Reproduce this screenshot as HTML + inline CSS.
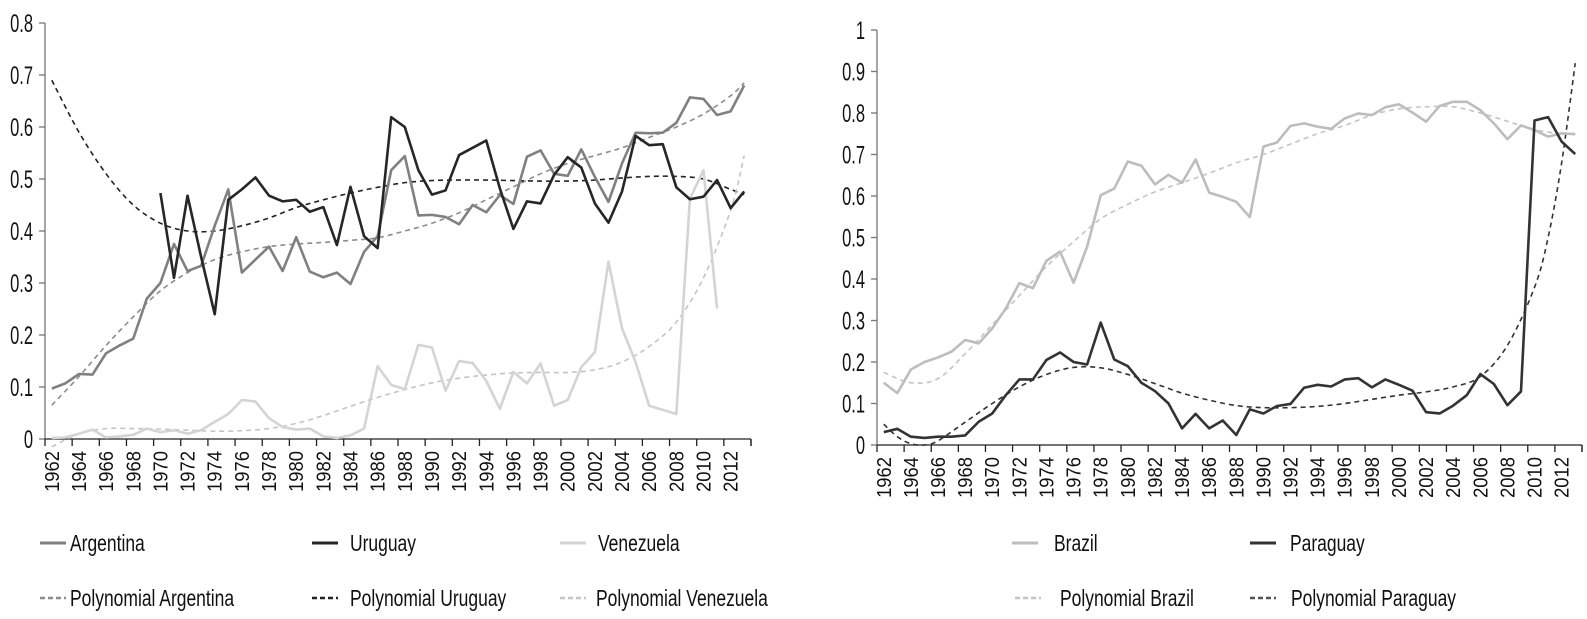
<!DOCTYPE html>
<html><head><meta charset="utf-8">
<style>
html,body{margin:0;padding:0;background:#fff;width:1587px;height:619px;overflow:hidden}
svg{display:block}
text{font-family:"Liberation Sans",sans-serif;fill:#111}
</style></head>
<body>
<svg id="chart" width="1587" height="619" viewBox="0 0 1587 619" xmlns="http://www.w3.org/2000/svg"></svg>
<script>
// ---- Data ----
const years = [];
for (let y = 1962; y <= 2013; y++) years.push(y);

const argentina = [0.097,0.107,0.125,0.124,0.165,0.18,0.193,0.27,0.30,0.375,0.323,0.333,0.41,0.48,0.32,0.345,0.37,0.323,0.388,0.322,0.311,0.32,0.298,0.36,0.39,0.517,0.544,0.43,0.431,0.427,0.413,0.45,0.436,0.469,0.452,0.543,0.555,0.51,0.506,0.557,0.504,0.456,0.53,0.589,0.588,0.589,0.608,0.657,0.654,0.623,0.63,0.68];
const uruguay = [null,null,null,null,null,null,null,null,0.473,0.31,0.468,0.35,0.24,0.46,0.48,0.503,0.468,0.457,0.46,0.437,0.446,0.373,0.485,0.39,0.367,0.619,0.6,0.517,0.47,0.478,0.546,0.56,0.574,0.482,0.404,0.457,0.453,0.508,0.542,0.522,0.453,0.416,0.476,0.583,0.565,0.567,0.484,0.461,0.466,0.498,0.444,0.476];
const venezuela = [0.002,0.003,0.01,0.018,0.003,0.005,0.008,0.02,0.013,0.017,0.01,0.017,0.033,0.048,0.075,0.072,0.04,0.023,0.018,0.02,0.005,0.002,0.007,0.02,0.14,0.104,0.096,0.181,0.176,0.093,0.15,0.146,0.112,0.058,0.129,0.107,0.145,0.064,0.075,0.138,0.167,0.341,0.213,0.148,0.064,0.056,0.048,0.462,0.517,0.251,null,null];

const trendYearsL = [1962,1964,1966,1968,1970,1972,1974,1976,1978,1980,1982,1984,1986,1988,1990,1992,1994,1996,1998,2000,2002,2004,2006,2008,2010,2012,2013];
const trendArgentina = [0.065,0.12,0.18,0.235,0.285,0.32,0.345,0.36,0.37,0.375,0.378,0.382,0.387,0.4,0.415,0.435,0.46,0.485,0.51,0.53,0.545,0.56,0.58,0.6,0.625,0.66,0.685];
const trendUruguay = [0.69,0.59,0.51,0.45,0.415,0.4,0.4,0.41,0.425,0.445,0.46,0.473,0.484,0.493,0.497,0.498,0.498,0.497,0.496,0.496,0.498,0.502,0.505,0.505,0.5,0.48,0.47];
const trendVenezuela = [-0.015,0.01,0.02,0.02,0.019,0.017,0.015,0.016,0.02,0.03,0.045,0.063,0.08,0.095,0.108,0.117,0.123,0.127,0.128,0.128,0.133,0.148,0.178,0.225,0.31,0.44,0.545];

const brazil = [0.15,0.125,0.182,0.2,0.211,0.225,0.253,0.245,0.281,0.329,0.39,0.378,0.444,0.466,0.391,0.478,0.602,0.618,0.683,0.673,0.628,0.651,0.632,0.688,0.608,0.598,0.586,0.549,0.719,0.729,0.769,0.775,0.767,0.762,0.787,0.799,0.795,0.814,0.821,0.801,0.779,0.817,0.827,0.827,0.807,0.775,0.737,0.77,0.759,0.743,0.751,0.749];
const paraguay = [0.031,0.039,0.02,0.017,0.02,0.02,0.023,0.056,0.076,0.12,0.158,0.158,0.205,0.223,0.2,0.194,0.295,0.206,0.19,0.15,0.13,0.1,0.04,0.075,0.04,0.059,0.024,0.086,0.076,0.094,0.099,0.138,0.145,0.141,0.158,0.161,0.139,0.158,0.145,0.131,0.079,0.076,0.095,0.12,0.171,0.147,0.096,0.129,0.782,0.79,0.731,0.701];

const trendYearsR = [1962,1964,1966,1968,1970,1972,1974,1976,1978,1980,1982,1984,1986,1988,1990,1992,1994,1996,1998,2000,2002,2004,2006,2008,2010,2012,2013];
const trendBrazil = [0.175,0.15,0.16,0.22,0.29,0.36,0.43,0.49,0.545,0.58,0.61,0.632,0.655,0.68,0.7,0.725,0.75,0.77,0.795,0.81,0.815,0.815,0.8,0.78,0.76,0.75,0.75];
const trendYearsP = [1962,1963,1964,1965,1966,1968,1970,1972,1974,1976,1978,1980,1982,1984,1986,1988,1990,1992,1994,1996,1998,2000,2002,2004,2006,2008,2010,2011,2012,2013];
const trendParaguay = [0.05,0.02,0.003,0,0.01,0.055,0.1,0.14,0.17,0.187,0.186,0.17,0.148,0.125,0.108,0.095,0.09,0.09,0.093,0.1,0.11,0.12,0.128,0.14,0.165,0.24,0.38,0.5,0.68,0.92];

const yTicksL = ["0","0.1","0.2","0.3","0.4","0.5","0.6","0.7","0.8"];
const yTicksR = ["0","0.1","0.2","0.3","0.4","0.5","0.6","0.7","0.8","0.9","1"];

// ---- Drawing ----
const NS = "http://www.w3.org/2000/svg";
const svg = document.getElementById("chart");
function mk(tag, attrs, parent) {
  const e = document.createElementNS(NS, tag);
  for (const k in attrs) e.setAttribute(k, attrs[k]);
  (parent || svg).appendChild(e);
  return e;
}

function makeChart(cfg) {
  const g = mk("g", {});
  
  
  const n = years.length;
  const band = (cfg.x1 - cfg.x0) / n;
  const xS = yr => cfg.x0 + band * (yr - years[0] + 0.5);
  const yS = v => cfg.y0 - (v / cfg.vmax) * (cfg.y0 - cfg.y1);

  const ya = mk("g", {}, g);
  
  
  mk("line", {x1: cfg.x0, y1: cfg.y0, x2: cfg.x0, y2: cfg.y1, stroke: "#777", "stroke-width": 1.3}, ya);
  cfg.yTicks.forEach(t => {
    const yy = yS(parseFloat(t));
    mk("line", {x1: cfg.x0 - 6, y1: yy, x2: cfg.x0, y2: yy, stroke: "#777", "stroke-width": 1.3}, ya);
    const tx = mk("text", {x: 0, y: 0, "text-anchor": "end", "font-size": 25,
      transform: `translate(${cfg.x0 - 12},${yy + 9}) scale(0.66,1)`}, ya);
    
    
    tx.textContent = t;
  });
  const xa = mk("g", {}, g);
  
  
  mk("line", {x1: cfg.x0, y1: cfg.y0, x2: cfg.x1, y2: cfg.y0, stroke: "#222", "stroke-width": 1.3}, xa);
  for (let i = 0; i <= n; i += 2) {
    const xx = cfg.x0 + band * i;
    mk("line", {x1: xx, y1: cfg.y0, x2: xx, y2: cfg.y0 + 7, stroke: "#222", "stroke-width": 1.3}, xa);
  }
  mk("line", {x1: cfg.x1, y1: cfg.y0, x2: cfg.x1, y2: cfg.y0 + 7, stroke: "#222", "stroke-width": 1.3}, xa);
  years.forEach((yr, i) => {
    if (i % 2) return;
    const xx = xS(yr) + 7;
    const tx = mk("text", {x: 0, y: 0, "text-anchor": "end", "font-size": 20,
      transform: `translate(${xx},${cfg.y0 + 12}) rotate(-90) scale(0.92,1)`}, xa);
    
    
    tx.textContent = yr;
  });

  cfg.trends.forEach(tr => {
    const pts = tr.years.map((yr, i) => [xS(yr), yS(tr.vals[i])]);
    let d = `M${pts[0][0]},${pts[0][1]}`;
    for (let i = 0; i < pts.length - 1; i++) {
      const p0 = pts[Math.max(0, i - 1)], p1 = pts[i], p2 = pts[i + 1], p3 = pts[Math.min(pts.length - 1, i + 2)];
      const c1 = [p1[0] + (p2[0] - p0[0]) / 6, p1[1] + (p2[1] - p0[1]) / 6];
      const c2 = [p2[0] - (p3[0] - p1[0]) / 6, p2[1] - (p3[1] - p1[1]) / 6];
      d += ` C${c1[0]},${c1[1]} ${c2[0]},${c2[1]} ${p2[0]},${p2[1]}`;
    }
    const p = mk("path", {d, fill: "none", stroke: tr.color, "stroke-width": 1.6, "stroke-dasharray": "5,4"}, g);
    
    
  });
  cfg.series.forEach(s => {
    let d = "", pen = false;
    s.vals.forEach((v, i) => {
      if (v === null) { pen = false; return; }
      d += (pen ? "L" : "M") + xS(years[i]) + "," + yS(v) + " ";
      pen = true;
    });
    const p = mk("path", {d, fill: "none", stroke: s.color, "stroke-width": 2.6, "stroke-linejoin": "round"}, g);
    
    
  });
  cfg.legend.forEach(L => {
    const lg = mk("g", {}, g);
    
    
    mk("line", {x1: L.sx, y1: L.y, x2: L.sx + 26, y2: L.y, stroke: L.color, "stroke-width": L.dash ? 2.5 : 3, "stroke-dasharray": L.dash ? "5,3" : "none"}, lg);
    const tx = mk("text", {x: 0, y: 0, "font-size": 23,
      transform: `translate(${L.tx},${L.y + 8}) scale(0.76,1)`}, lg);
    tx.textContent = L.label;
  });
}

makeChart({
  name: "left-chart", x0: 45, x1: 751, y0: 439, y1: 23, vmax: 0.8, yTicks: yTicksL,
  series: [
    {name: "argentina-line", vals: argentina, color: "#808080"},
    {name: "venezuela-line", vals: venezuela, color: "#d4d4d4"},
    {name: "uruguay-line", vals: uruguay, color: "#262626"}
  ],
  trends: [
    {name: "argentina-trend", years: trendYearsL, vals: trendArgentina, color: "#8c8c8c"},
    {name: "uruguay-trend", years: trendYearsL, vals: trendUruguay, color: "#222"},
    {name: "venezuela-trend", years: trendYearsL, vals: trendVenezuela, color: "#c4c4c4"}
  ],
  legend: [
    {sx: 40, tx: 70, y: 543, color: "#808080", label: "Argentina"},
    {sx: 312, tx: 350, y: 543, color: "#262626", label: "Uruguay"},
    {sx: 560, tx: 598, y: 543, color: "#d4d4d4", label: "Venezuela"},
    {sx: 40, tx: 70, y: 598, color: "#8c8c8c", dash: true, label: "Polynomial Argentina"},
    {sx: 312, tx: 350, y: 598, color: "#222", dash: true, label: "Polynomial Uruguay"},
    {sx: 560, tx: 596, y: 598, color: "#c4c4c4", dash: true, label: "Polynomial Venezuela"}
  ]
});

makeChart({
  name: "right-chart", x0: 877, x1: 1582, y0: 445, y1: 30, vmax: 1, yTicks: yTicksR,
  series: [
    {name: "brazil-line", vals: brazil, color: "#bdbdbd"},
    {name: "paraguay-line", vals: paraguay, color: "#333"}
  ],
  trends: [
    {name: "brazil-trend", years: trendYearsR, vals: trendBrazil, color: "#c4c4c4"},
    {name: "paraguay-trend", years: trendYearsP, vals: trendParaguay, color: "#333"}
  ],
  legend: [
    {sx: 1012, tx: 1054, y: 543, color: "#bdbdbd", label: "Brazil"},
    {sx: 1250, tx: 1290, y: 543, color: "#333", label: "Paraguay"},
    {sx: 1015, tx: 1060, y: 598, color: "#c4c4c4", dash: true, label: "Polynomial Brazil"},
    {sx: 1250, tx: 1291, y: 598, color: "#555", dash: true, label: "Polynomial Paraguay"}
  ]
});
</script>
</body></html>
